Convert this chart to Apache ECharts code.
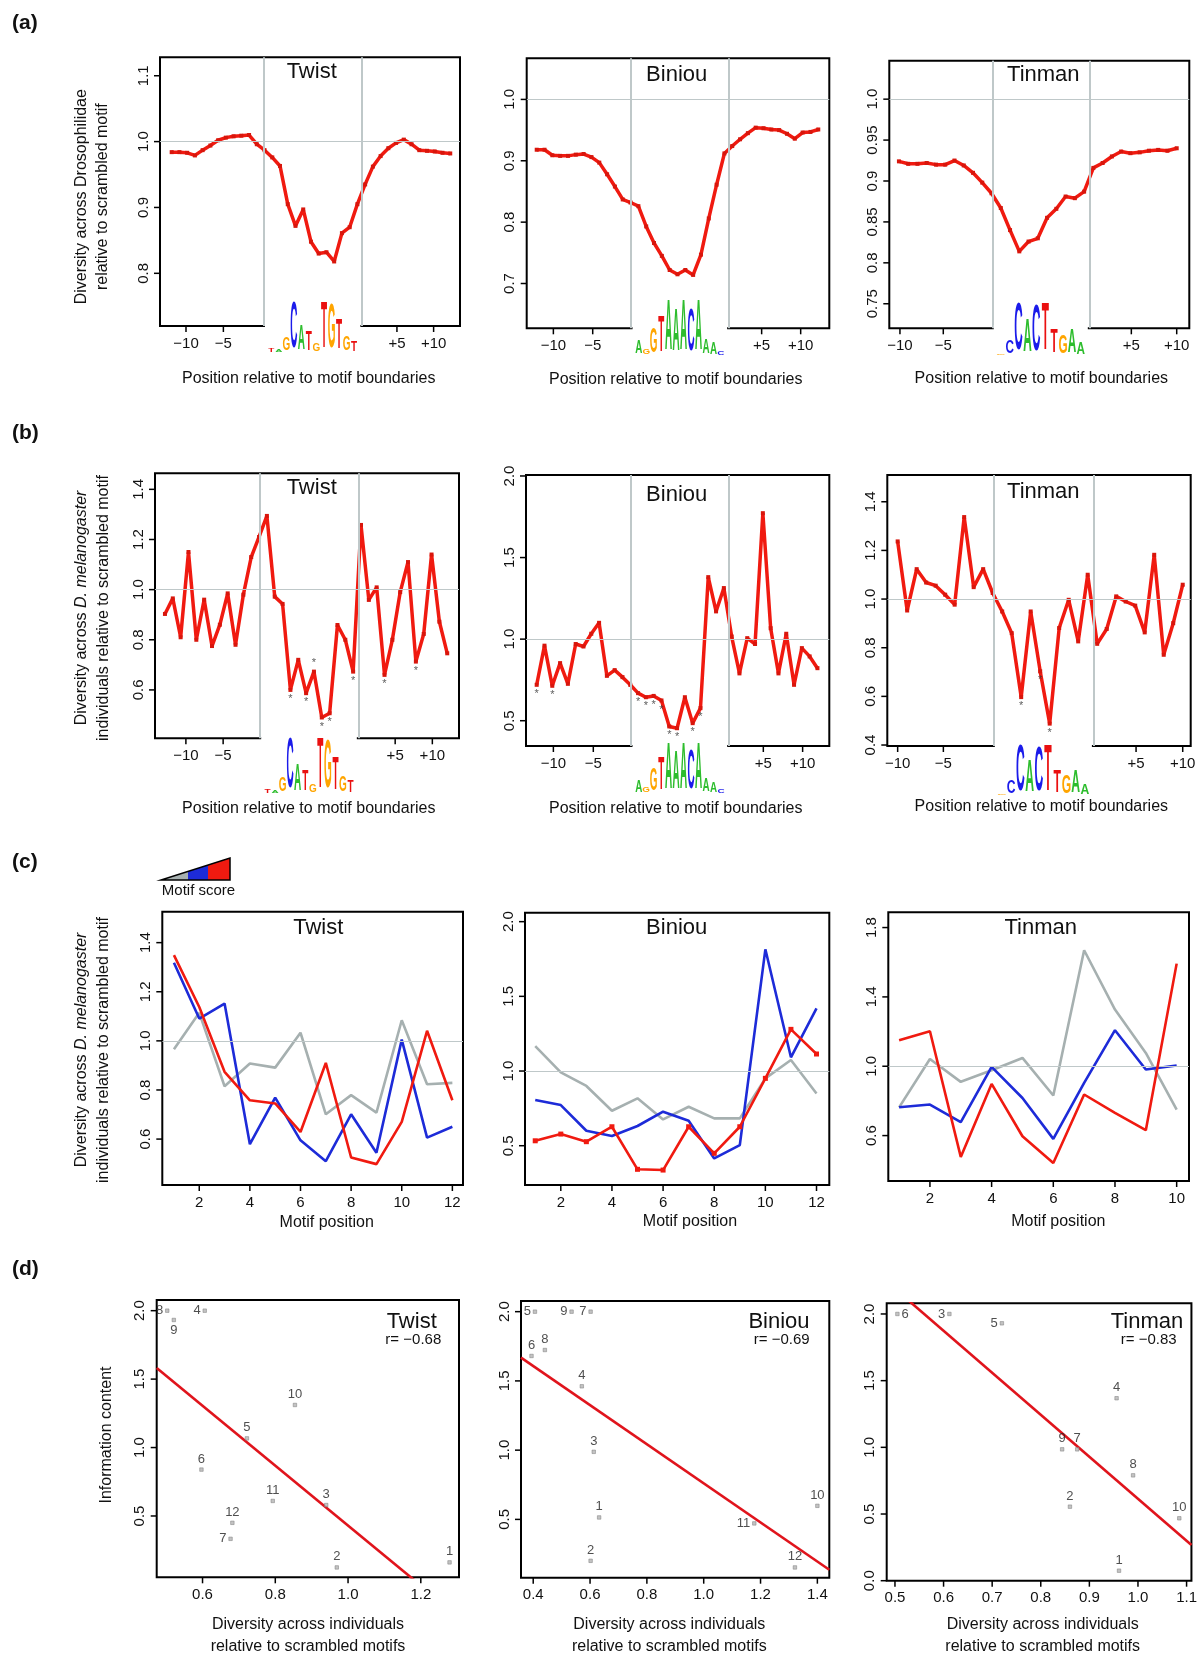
<!DOCTYPE html>
<html lang="en">
<head>
<meta charset="UTF-8">
<title>Motif diversity</title>
<script src="https://cdn.jsdelivr.net/npm/echarts@6/dist/echarts.min.js"></script>
<style>
  html, body { margin: 0; padding: 0; background: #fff; }
  #main { width: 1200px; height: 1665px; }
</style>
</head>
<body>
<div id="main"></div>
<script>
// ---- (a) diversity across Drosophilidae, left flank / motif / right flank
const twistDivA = [0.984,0.984,0.983,0.979,0.987,0.994,1.002,1.006,1.008,1.009,1.010,0.996,0.987,0.976,0.963,0.905,0.872,0.897,0.848,0.830,0.832,0.818,0.861,0.870,0.905,0.935,0.962,0.978,0.990,0.998,1.003,0.996,0.987,0.986,0.985,0.983,0.982];
const biniouDivA = [0.918,0.918,0.909,0.908,0.908,0.910,0.911,0.906,0.897,0.878,0.858,0.837,0.832,0.826,0.793,0.766,0.745,0.722,0.715,0.722,0.714,0.747,0.806,0.861,0.912,0.924,0.935,0.945,0.954,0.953,0.951,0.950,0.944,0.936,0.946,0.947,0.951];
const tinmanDivA = [0.924,0.921,0.921,0.922,0.920,0.920,0.925,0.919,0.910,0.898,0.885,0.867,0.840,0.814,0.826,0.830,0.855,0.866,0.881,0.879,0.887,0.916,0.922,0.930,0.936,0.934,0.935,0.937,0.938,0.937,0.940];

// ---- (b) diversity across D. melanogaster individuals
const twistDivB = [0.903,0.965,0.81,1.15,0.80,0.96,0.775,0.86,0.985,0.78,0.98,1.13,1.21,1.294,0.972,0.943,0.6,0.72,0.587,0.673,0.49,0.507,0.859,0.80,0.673,1.258,0.959,1.009,0.66,0.80,0.99,1.11,0.713,0.823,1.14,0.872,0.746];
const biniouDivB = [0.72,0.96,0.714,0.853,0.726,0.97,0.955,1.033,1.10,0.775,0.81,0.767,0.72,0.669,0.644,0.652,0.624,0.465,0.454,0.644,0.485,0.577,1.38,1.17,1.313,1.016,0.79,1.006,0.97,1.772,1.067,0.79,1.033,0.72,0.945,0.894,0.822];
const tinmanDivB = [1.237,0.953,1.123,1.068,1.055,1.018,0.977,1.337,1.049,1.123,1.025,0.949,0.86,0.597,0.949,0.703,0.488,0.881,0.997,0.826,1.10,0.816,0.877,1.011,0.99,0.973,0.863,1.182,0.771,0.901,1.059];
// significant positions (asterisks)
const twistStarsB = [16,18,19,20,21,24,28,32];
const biniouStarsB = [0,2,13,14,15,16,17,18,20,21];
const tinmanStarsB = [13,15,16];

// ---- (c) per motif position, by motif score class
const twistGreyC = [0.966,1.114,0.815,0.908,0.891,1.033,0.701,0.779,0.708,1.084,0.823,0.829];
const twistBlueC = [1.318,1.091,1.152,0.579,0.769,0.595,0.51,0.701,0.544,1.005,0.606,0.65];
const twistRedC  = [1.349,1.138,0.874,0.758,0.745,0.629,0.91,0.525,0.498,0.67,1.041,0.758];
const biniouGreyC = [1.167,0.991,0.90,0.734,0.817,0.676,0.761,0.683,0.683,0.951,1.074,0.85];
const biniouBlueC = [0.806,0.772,0.60,0.565,0.632,0.728,0.667,0.415,0.504,1.815,1.092,1.42];
const biniouRedC  = [0.533,0.578,0.527,0.627,0.342,0.337,0.627,0.449,0.627,0.951,1.279,1.114];
const tinmanGreyC = [0.763,1.042,0.91,0.977,1.048,0.831,1.669,1.327,1.077,0.75];
const tinmanBlueC = [0.763,0.779,0.677,0.996,0.817,0.581,0.904,1.208,0.981,1.004];
const tinmanRedC  = [1.15,1.202,0.477,0.898,0.596,0.442,0.837,0.731,0.631,1.592];

// ---- (d) diversity vs information content per motif position
const twistDiv = [1.279,0.969,0.94,0.606,0.722,0.597,0.677,0.503,0.521,0.854,0.793,0.682];
const twistIC  = [0.161,0.124,0.58,2.0,1.067,0.839,0.333,2.0,1.932,1.311,0.61,0.45];
const biniouDiv = [0.632,0.602,0.613,0.571,0.406,0.394,0.602,0.441,0.535,1.4,1.178,1.321];
const biniouIC  = [0.514,0.201,0.988,1.461,2.0,1.68,2.0,1.723,2.0,0.598,0.471,0.153];
const tinmanDiv = [0.961,0.86,0.612,0.956,0.72,0.505,0.875,0.99,0.844,1.085];
const tinmanIC  = [0.075,0.555,2.0,1.368,1.93,2.0,0.985,0.79,0.985,0.468];

// consensus letters of the motif logos
const twistLetters = 'TAGCATGTGTGT';
const biniouLetters = 'AGGTAAACAAAC';
const tinmanLetters = 'GCCACTTGAA';

const flankLabels = ['\u221210', '\u22125', '+5', '+10'];

const FONT = "'Liberation Sans', Arial, Helvetica, sans-serif";
const RED = '#f01a10', BLUE = '#1d2bd8', GREY = '#a6b0b0', REF = '#bfc8c9';

const chart = echarts.init(document.getElementById('main'), null, {renderer: 'canvas'});
const grids = [], xAxes = [], yAxes = [], series = [], panels = [];

function fmt(ticks, labels) {
    return function (v) {
        for (let k = 0; k < ticks.length; k++) {
            if (Math.abs(ticks[k] - v) < 1e-6) return labels[k];
        }
        return '';
    };
}

function axis(g, a, isY) {
    return {
        type: 'value', gridIndex: g, min: a.min, max: a.max,
        axisLine: {show: false},
        splitLine: {show: false},
        axisTick: {show: false},
        axisLabel: {
            show: true, customValues: a.ticks, formatter: fmt(a.ticks, a.labels),
            rotate: isY ? 90 : 0, margin: isY ? 9 : 10,
            color: '#111', fontSize: 15, fontFamily: FONT
        }
    };
}

function addPanel(box, x, y) {
    const g = grids.length;
    grids.push({
        left: box[0], top: box[1], width: box[2] - box[0], height: box[3] - box[1],
        show: true, borderColor: '#000', borderWidth: 2, backgroundColor: 'transparent'
    });
    xAxes.push(axis(g, x, false));
    yAxes.push(axis(g, y, true));
    panels.push({g: g, box: box, x: x, y: y});
    return g;
}

function refSeries(g, xs, ys, x0) {
    const data = [];
    xs.forEach(v => data.push({xAxis: v, lineStyle: {color: REF, width: 2, type: 'solid'}}));
    ys.forEach(v => data.push({yAxis: v, lineStyle: {color: REF, width: 1.2, type: 'solid'}}));
    series.push({
        type: 'line', xAxisIndex: g, yAxisIndex: g, data: [[x0, 1]],
        symbol: 'none', lineStyle: {opacity: 0}, z: 1, silent: true,
        markLine: {silent: true, symbol: ['none', 'none'], label: {show: false}, animation: false, data: data}
    });
}

function profile(g, values, bounds, stars, starsTop) {
    refSeries(g, bounds, [1], 0);
    series.push({
        type: 'line', xAxisIndex: g, yAxisIndex: g,
        data: values.map((v, i) => [i, v]),
        symbol: 'rect', symbolSize: 4, showSymbol: true,
        lineStyle: {color: RED, width: 3.5}, itemStyle: {color: '#d8160c'},
        z: 3, silent: true
    });
    if (stars) {
        series.push({
            type: 'scatter', xAxisIndex: g, yAxisIndex: g,
            data: stars.map(i => ({
                value: [i, values[i]],
                label: {position: (starsTop || []).indexOf(i) >= 0 ? 'top' : 'bottom'}
            })),
            symbolSize: 1, itemStyle: {color: 'rgba(0,0,0,0)'}, z: 4, silent: true,
            label: {show: true, formatter: '*', distance: 3, fontSize: 11, color: '#333', fontFamily: FONT}
        });
    }
}

function scoreLines(g, grey, blue, red, redMarks) {
    refSeries(g, [], [1], 1);
    [[grey, GREY], [blue, BLUE], [red, RED]].forEach(([vals, col], k) => {
        const marks = redMarks && k === 2;
        series.push({
            type: 'line', xAxisIndex: g, yAxisIndex: g,
            data: vals.map((v, i) => [i + 1, v]),
            symbol: marks ? 'rect' : 'none', symbolSize: 5, showSymbol: marks,
            lineStyle: {color: col, width: 2.6}, itemStyle: {color: col},
            z: 3 + k, silent: true
        });
    });
}

function fit(xs, ys) {
    const n = xs.length;
    const mx = xs.reduce((a, b) => a + b, 0) / n;
    const my = ys.reduce((a, b) => a + b, 0) / n;
    let sxy = 0, sxx = 0;
    for (let i = 0; i < n; i++) { sxy += (xs[i] - mx) * (ys[i] - my); sxx += (xs[i] - mx) * (xs[i] - mx); }
    const slope = sxy / sxx;
    return [slope, my - slope * mx];
}

function icScatter(g, div, ic, xr, sides) {
    const f = fit(div, ic);
    series.push({
        type: 'line', xAxisIndex: g, yAxisIndex: g,
        data: [[xr[0], f[1] + f[0] * xr[0]], [xr[1], f[1] + f[0] * xr[1]]],
        symbol: 'none', clip: true, lineStyle: {color: '#e0141c', width: 2.6}, z: 2, silent: true
    });
    series.push({
        type: 'scatter', xAxisIndex: g, yAxisIndex: g,
        data: div.map((d, i) => ({value: [d, ic[i]], label: {position: sides[i] || 'top'}})),
        symbol: 'rect', symbolSize: 3.5,
        itemStyle: {color: '#b4b4b4', borderColor: '#777', borderWidth: 0.6},
        label: {show: true, formatter: p => String(p.dataIndex + 1), distance: 2, fontSize: 13, color: '#222', fontFamily: FONT},
        z: 3, silent: true
    });
}

// ---------- row (a)
const gA1 = addPanel([160, 57.3, 460, 326],
    {min: -1.51, max: 37.26, ticks: [1.85, 6.68, 29.11, 33.85], labels: flankLabels},
    {min: 0.72, max: 1.128, ticks: [0.8, 0.9, 1.0, 1.1], labels: ['0.8', '0.9', '1.0', '1.1']});
const gA2 = addPanel([526.7, 58.3, 829.3, 328.3],
    {min: -1.28, max: 37.41, ticks: [2.13, 7.16, 28.76, 33.75], labels: flankLabels},
    {min: 0.627, max: 1.067, ticks: [0.7, 0.8, 0.9, 1.0], labels: ['0.7', '0.8', '0.9', '1.0']});
const gA3 = addPanel([889.3, 60.7, 1189.3, 328.3],
    {min: -1.04, max: 31.36, ticks: [0.11, 4.79, 25.1, 30.0], labels: flankLabels},
    {min: 0.72, max: 1.047, ticks: [0.75, 0.8, 0.85, 0.9, 0.95, 1.0], labels: ['0.75', '0.8', '0.85', '0.9', '0.95', '1.0']});
const boundsA = [[11.86, 24.58], [12.06, 24.54], [10.08, 20.56]];
profile(gA1, twistDivA, boundsA[0]);
profile(gA2, biniouDivA, boundsA[1]);
profile(gA3, tinmanDivA, boundsA[2]);

// ---------- row (b)
const gB1 = addPanel([155, 473.3, 459, 738.3],
    {min: -1.27, max: 37.5, ticks: [2.67, 7.42, 29.36, 34.1], labels: flankLabels},
    {min: 0.407, max: 1.464, ticks: [0.6, 0.8, 1.0, 1.2, 1.4], labels: ['0.6', '0.8', '1.0', '1.2', '1.4']});
const gB2 = addPanel([526, 475, 829.3, 746],
    {min: -1.37, max: 37.52, ticks: [2.14, 7.26, 29.06, 34.1], labels: flankLabels},
    {min: 0.345, max: 2.006, ticks: [0.5, 1.0, 1.5, 2.0], labels: ['0.5', '1.0', '1.5', '2.0']});
const gB3 = addPanel([887.3, 475, 1190.7, 746],
    {min: -1.09, max: 30.84, ticks: [0, 4.81, 25.09, 30.0], labels: flankLabels},
    {min: 0.396, max: 1.51, ticks: [0.4, 0.6, 0.8, 1.0, 1.2, 1.4], labels: ['0.4', '0.6', '0.8', '1.0', '1.2', '1.4']});
const boundsB = [[12.08, 24.66], [12.09, 24.62], [10.07, 20.6]];
profile(gB1, twistDivB, boundsB[0], twistStarsB, [19]);
profile(gB2, biniouDivB, boundsB[1], biniouStarsB);
profile(gB3, tinmanDivB, boundsB[2], tinmanStarsB);

// ---------- row (c)
const gC1 = addPanel([162.3, 911.7, 463, 1185],
    {min: 0.54, max: 12.42, ticks: [2, 4, 6, 8, 10, 12], labels: ['2', '4', '6', '8', '10', '12']},
    {min: 0.413, max: 1.526, ticks: [0.6, 0.8, 1.0, 1.2, 1.4], labels: ['0.6', '0.8', '1.0', '1.2', '1.4']});
const gC2 = addPanel([525, 912.7, 829.3, 1185],
    {min: 0.6, max: 12.5, ticks: [2, 4, 6, 8, 10, 12], labels: ['2', '4', '6', '8', '10', '12']},
    {min: 0.237, max: 2.06, ticks: [0.5, 1.0, 1.5, 2.0], labels: ['0.5', '1.0', '1.5', '2.0']});
const gC3 = addPanel([888.3, 912.3, 1189, 1181],
    {min: 0.65, max: 10.4, ticks: [2, 4, 6, 8, 10], labels: ['2', '4', '6', '8', '10']},
    {min: 0.338, max: 1.888, ticks: [0.6, 1.0, 1.4, 1.8], labels: ['0.6', '1.0', '1.4', '1.8']});
scoreLines(gC1, twistGreyC, twistBlueC, twistRedC);
scoreLines(gC2, biniouGreyC, biniouBlueC, biniouRedC, true);
scoreLines(gC3, tinmanGreyC, tinmanBlueC, tinmanRedC);

// ---------- row (d)
const xrD = [[0.474, 1.305], [0.357, 1.442], [0.483, 1.11]];
const gD1 = addPanel([156.7, 1300, 459, 1577.3],
    {min: xrD[0][0], max: xrD[0][1], ticks: [0.6, 0.8, 1.0, 1.2], labels: ['0.6', '0.8', '1.0', '1.2']},
    {min: 0.052, max: 2.078, ticks: [0.5, 1.0, 1.5, 2.0], labels: ['0.5', '1.0', '1.5', '2.0']});
const gD2 = addPanel([521, 1301, 829.3, 1577.7],
    {min: xrD[1][0], max: xrD[1][1], ticks: [0.4, 0.6, 0.8, 1.0, 1.2, 1.4], labels: ['0.4', '0.6', '0.8', '1.0', '1.2', '1.4']},
    {min: 0.079, max: 2.077, ticks: [0.5, 1.0, 1.5, 2.0], labels: ['0.5', '1.0', '1.5', '2.0']});
const gD3 = addPanel([886.7, 1303.3, 1193.3, 1580.7],
    {min: xrD[2][0], max: xrD[2][1], ticks: [0.5, 0.6, 0.7, 0.8, 0.9, 1.0, 1.1], labels: ['0.5', '0.6', '0.7', '0.8', '0.9', '1.0', '1.1']},
    {min: 0, max: 2.08, ticks: [0, 0.5, 1.0, 1.5, 2.0], labels: ['0.0', '0.5', '1.0', '1.5', '2.0']});
icScatter(gD1, twistDiv, twistIC, xrD[0], {3: 'left', 6: 'left', 7: 'left', 8: 'bottom'});
icScatter(gD2, biniouDiv, biniouIC, xrD[1], {4: 'left', 6: 'left', 8: 'left', 10: 'left'});
icScatter(gD3, tinmanDiv, tinmanIC, xrD[2], {2: 'left', 4: 'left', 5: 'right'});

chart.setOption({
    animation: false,
    backgroundColor: '#fff',
    grid: grids,
    xAxis: xAxes,
    yAxis: yAxes,
    series: series
});

// ---------- texts and decorations
const gfx = [];
function txt(s, x, y, size, extra) {
    const el = {
        type: 'text', x: x, y: y, silent: true, z: 100,
        style: {text: s, fill: '#111', font: size + 'px ' + FONT,
            textAlign: 'center', textVerticalAlign: 'middle', align: 'center', verticalAlign: 'middle'}
    };
    if (extra) Object.assign(el, extra);
    return el;
}
function vtxt(s, x, y) { return txt(s, x, y, 16, {rotation: Math.PI / 2}); }
function richV(x, y) {
    const el = txt('{n|Diversity across }{i|D. melanogaster}', x, y, 16, {rotation: Math.PI / 2});
    el.style.rich = {
        n: {font: '16px ' + FONT, fill: '#111'},
        i: {font: 'italic 16px ' + FONT, fill: '#111'}
    };
    return el;
}

// outward tick marks, placed through each grid's own scales
panels.forEach(p => {
    const bottom = p.box[3], left = p.box[0];
    p.x.ticks.forEach(v => {
        const px = chart.convertToPixel({gridIndex: p.g}, [v, p.y.min])[0];
        gfx.push({type: 'line', silent: true, z: 100,
            shape: {x1: px, y1: bottom, x2: px, y2: bottom + 6}, style: {stroke: '#000', lineWidth: 1.5}});
    });
    p.y.ticks.forEach(v => {
        const py = chart.convertToPixel({gridIndex: p.g}, [p.x.min, v])[1];
        gfx.push({type: 'line', silent: true, z: 100,
            shape: {x1: left - 6, y1: py, x2: left, y2: py}, style: {stroke: '#000', lineWidth: 1.5}});
    });
});

[['(a)', 23], ['(b)', 433], ['(c)', 862], ['(d)', 1269]].forEach(([s, y]) => {
    const el = txt(s, 12, y, 21);
    el.style.font = 'bold 21px ' + FONT;
    el.style.textAlign = el.style.align = 'left';
    gfx.push(el);
});

[['Twist', 311.7, 71.7], ['Biniou', 676.7, 75], ['Tinman', 1043.3, 75],
 ['Twist', 311.7, 488.3], ['Biniou', 676.7, 495], ['Tinman', 1043.3, 491.7],
 ['Twist', 318.3, 928.3], ['Biniou', 676.7, 928.3], ['Tinman', 1040.7, 928.3],
 ['Twist', 411.7, 1321.7], ['Biniou', 779, 1322], ['Tinman', 1147, 1321.7]
].forEach(([s, x, y]) => gfx.push(txt(s, x, y, 22)));
[['r= \u22120.68', 413.3, 1340], ['r= \u22120.69', 781.7, 1340], ['r= \u22120.83', 1148.7, 1340]]
    .forEach(([s, x, y]) => gfx.push(txt(s, x, y, 15)));

const posTitle = 'Position relative to motif boundaries';
[[308.7, 378.3], [675.7, 380], [1041.3, 378.3], [308.7, 808.3], [675.7, 808.3], [1041.3, 806.7]]
    .forEach(([x, y]) => gfx.push(txt(posTitle, x, y, 16)));
[[326.7, 1222.3], [690, 1221.7], [1058.3, 1221.7]]
    .forEach(([x, y]) => gfx.push(txt('Motif position', x, y, 16)));
[308, 669.3, 1042.7].forEach(x => {
    gfx.push(txt('Diversity across individuals', x, 1625, 16));
    gfx.push(txt('relative to scrambled motifs', x, 1646.7, 16));
});

gfx.push(vtxt('Diversity across Drosophilidae', 81.7, 196.7));
gfx.push(vtxt('relative to scrambled motif', 103, 196.7));
gfx.push(richV(81.7, 608));
gfx.push(vtxt('individuals relative to scrambled motif', 103.3, 608));
gfx.push(richV(81.7, 1050));
gfx.push(vtxt('individuals relative to scrambled motif', 103.3, 1050));
gfx.push(vtxt('Information content', 106.7, 1435));

// motif score wedge
const wx0 = 161, wx1 = 230, wyB = 880, wyT = 858;
const wy = x => wyB - (wyB - wyT) * (x - wx0) / (wx1 - wx0);
[[161, 188, GREY], [188, 208, BLUE], [208, 230, RED]].forEach(([a, b, c]) => {
    gfx.push({type: 'polygon', z: 100, silent: true,
        shape: {points: [[a, wyB], [b, wyB], [b, wy(b)], [a, wy(a)]]}, style: {fill: c}});
});
gfx.push({type: 'polygon', z: 101, silent: true,
    shape: {points: [[wx0, wyB], [wx1, wyB], [wx1, wyT]]}, style: {fill: 'none', stroke: '#000', lineWidth: 1.5}});
gfx.push(txt('Motif score', 198.5, 891, 15));

// sequence logos under the motif window
const logoColors = {A: '#2dbd2d', C: '#1b1bea', G: '#ffa500', T: '#ea1010'};
function addLogo(g, bounds, letters, ic, bottom, base, h2) {
    const pa = chart.convertToPixel({gridIndex: g}, [bounds[0], 1])[0];
    const pb = chart.convertToPixel({gridIndex: g}, [bounds[1], 1])[0];
    gfx.push({type: 'rect', z: 100, silent: true,
        shape: {x: pa + 1.5, y: bottom - 3, width: pb - pa - 3, height: 6}, style: {fill: '#fff'}});
    const x0 = pa + 4, x1 = pb - 4, w = (x1 - x0) / letters.length;
    for (let k = 0; k < letters.length; k++) {
        const hh = ic[k] / 2 * h2;
        if (hh < 1.5) continue;
        const ch = letters[k];
        gfx.push({
            type: 'text', silent: true, z: 101,
            x: x0 + w * (k + 0.5), y: base - hh / 2,
            scaleX: w * 0.95 / 14.4, scaleY: hh / 14.4,
            style: {text: ch, fill: logoColors[ch], font: 'bold 20px ' + FONT, lineHeight: 20,
                textAlign: 'center', textVerticalAlign: 'middle', align: 'center', verticalAlign: 'middle'}
        });
    }
}
addLogo(gA1, boundsA[0], twistLetters, twistIC, 326, 352, 47);
addLogo(gA2, boundsA[1], biniouLetters, biniouIC, 328.3, 355, 50);
addLogo(gA3, boundsA[2], tinmanLetters, tinmanIC, 328.3, 355, 48);
addLogo(gB1, boundsB[0], twistLetters, twistIC, 738.3, 793, 51);
addLogo(gB2, boundsB[1], biniouLetters, biniouIC, 746, 793, 46);
addLogo(gB3, boundsB[2], tinmanLetters, tinmanIC, 746, 795, 47);

chart.setOption({graphic: {elements: gfx}});

window.addEventListener('resize', function () {
    chart.resize();
});
</script>
</body>
</html>
